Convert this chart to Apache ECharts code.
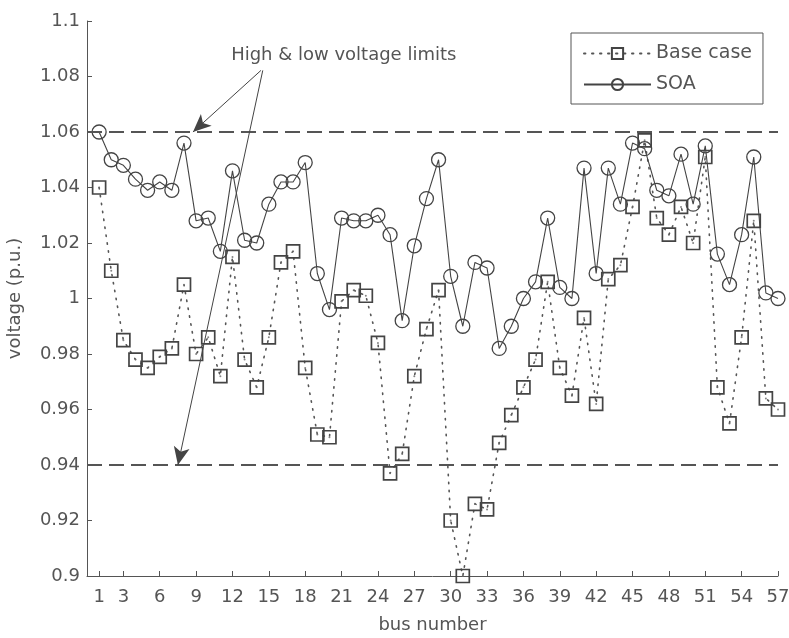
<!DOCTYPE html>
<html>
<head>
<meta charset="utf-8">
<script src="https://cdn.jsdelivr.net/npm/echarts@6/dist/echarts.min.js"></script>
<style>
  html, body { margin: 0; padding: 0; background: #fff; }
  #chart { width: 789px; height: 638px; }
</style>
</head>
<body>
<div id="chart"></div>
<script>
// Bus voltage profile of the 57-bus system: base case vs. SOA-optimised case
const busNumbers = [1,2,3,4,5,6,7,8,9,10,11,12,13,14,15,16,17,18,19,20,
  21,22,23,24,25,26,27,28,29,30,31,32,33,34,35,36,37,38,39,40,
  41,42,43,44,45,46,47,48,49,50,51,52,53,54,55,56,57];

const baseCase = [1.040,1.010,0.985,0.978,0.975,0.979,0.982,1.005,0.980,0.986,
  0.972,1.015,0.978,0.968,0.986,1.013,1.017,0.975,0.951,0.950,
  0.999,1.003,1.001,0.984,0.937,0.944,0.972,0.989,1.003,0.920,
  0.900,0.926,0.924,0.948,0.958,0.968,0.978,1.006,0.975,0.965,
  0.993,0.962,1.007,1.012,1.033,1.057,1.029,1.023,1.033,1.020,
  1.051,0.968,0.955,0.986,1.028,0.964,0.960];

const soa = [1.060,1.050,1.048,1.043,1.039,1.042,1.039,1.056,1.028,1.029,
  1.017,1.046,1.021,1.020,1.034,1.042,1.042,1.049,1.009,0.996,
  1.029,1.028,1.028,1.030,1.023,0.992,1.019,1.036,1.050,1.008,
  0.990,1.013,1.011,0.982,0.990,1.000,1.006,1.029,1.004,1.000,
  1.047,1.009,1.047,1.034,1.056,1.054,1.039,1.037,1.052,1.034,
  1.055,1.016,1.005,1.023,1.051,1.002,1.000];

const xTickLabels = [1,3,6,9,12,15,18,21,24,27,30,33,36,39,42,45,48,51,54,57];
const voltageLimits = [1.06, 0.94];
const limitsNote = 'High & low voltage limits';

const FONT = 'DejaVu Sans';
const INK = '#555';

const pairs = (ys) => busNumbers.map((b, i) => [b, ys[i]]);

const chart = echarts.init(document.getElementById('chart'), null, { renderer: 'canvas' });

chart.setOption({
  backgroundColor: '#fff',
  animation: false,
  textStyle: { fontFamily: FONT },
  grid: { left: 87, top: 21, right: 11, bottom: 62, containLabel: false,
    outerBoundsMode: 'none' },
  legend: {
    data: ['Base case', 'SOA'],
    orient: 'vertical',
    left: 571,
    top: 33,
    padding: [11, 11, 10, 12],
    itemGap: 12,
    itemWidth: 67,
    itemHeight: 14,
    borderColor: '#555',
    borderWidth: 1,
    textStyle: { fontFamily: FONT, fontSize: 19, lineHeight: 18, color: INK }
  },
  xAxis: {
    type: 'value',
    min: 0,
    max: 57,
    name: 'bus number',
    nameLocation: 'middle',
    nameGap: 40,
    nameTextStyle: { fontFamily: FONT, fontSize: 18, color: INK },
    axisLine: { show: true, lineStyle: { color: '#555', width: 1 } },
    axisTick: { show: true, inside: true, length: 5, customValues: xTickLabels,
      lineStyle: { color: '#555' } },
    axisLabel: { customValues: xTickLabels, fontSize: 18, color: INK, margin: 12,
      fontFamily: FONT },
    splitLine: { show: false }
  },
  yAxis: {
    type: 'value',
    min: 0.9,
    max: 1.1,
    interval: 0.02,
    name: 'voltage (p.u.)',
    nameLocation: 'middle',
    nameGap: 63,
    nameRotate: 90,
    nameTextStyle: { fontFamily: FONT, fontSize: 18, color: INK },
    axisLine: { show: true, lineStyle: { color: '#555', width: 1 } },
    axisTick: { show: true, inside: true, length: 5, lineStyle: { color: '#555' } },
    axisLabel: { fontSize: 18, color: INK, margin: 7, fontFamily: FONT,
      formatter: (v) => String(+v.toFixed(2)) },
    splitLine: { show: false }
  },
  series: [
    {
      name: 'limits',
      type: 'line',
      data: [],
      silent: true,
      markLine: {
        silent: true,
        symbol: ['none', 'none'],
        label: { show: false },
        lineStyle: { color: '#555', width: 2, type: [15, 7] },
        data: voltageLimits.map((v) => ({ yAxis: v }))
      }
    },
    {
      name: 'annotation',
      type: 'line',
      data: [],
      silent: true,
      markLine: {
        silent: true,
        symbol: ['none', 'arrow'],
        symbolSize: [12, 18],
        label: { show: false },
        lineStyle: { color: '#444', width: 1, type: 'solid' },
        data: [
          [{ coord: [14.35, 1.0822] }, { coord: [8.74, voltageLimits[0]] }],
          [{ coord: [14.5, 1.0822] }, { coord: [7.5, voltageLimits[1]] }]
        ]
      },
      markPoint: {
        silent: true,
        symbol: 'rect',
        symbolSize: 0,
        label: { show: true, formatter: limitsNote, fontFamily: FONT, fontSize: 18,
          color: INK, position: 'inside' },
        data: [{ coord: [21.18, 1.0877] }]
      }
    },
    {
      name: 'Base case',
      type: 'line',
      data: pairs(baseCase),
      symbol: 'rect',
      symbolSize: 13,
      showAllSymbol: true,
      lineStyle: { color: '#555', width: 1.6, type: [1.4, 6.6], cap: 'round' },
      itemStyle: { color: 'rgba(255,255,255,0)', borderColor: '#444', borderWidth: 1.7 },
      z: 3
    },
    {
      name: 'base vertices',
      type: 'scatter',
      data: pairs(baseCase),
      symbol: 'circle',
      symbolSize: 2,
      silent: true,
      itemStyle: { color: '#666' },
      z: 3
    },
    {
      name: 'SOA',
      type: 'line',
      data: pairs(soa),
      symbol: 'circle',
      symbolSize: 14,
      showAllSymbol: true,
      lineStyle: { color: '#444', width: 1.1, type: 'solid' },
      itemStyle: { color: 'rgba(255,255,255,0)', borderColor: '#444', borderWidth: 1.3 },
      z: 4
    }
  ]
});
</script>
</body>
</html>
